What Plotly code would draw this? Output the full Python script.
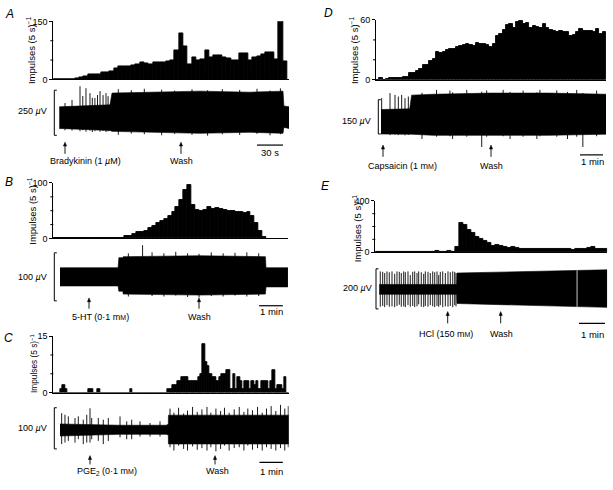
import plotly.graph_objects as go

# ---------------- data ----------------
# Rate histograms (impulses per bin), bin widths in seconds
A_BIN = 5.0
A_HIST = [1, 1, 1, 1, 1, 2, 5, 7, 14, 14, 14, 19, 19, 22, 28, 34, 34, 35, 37, 39, 43, 42, 40,
          45, 45, 45, 47, 50, 76, 119, 86, 40, 56, 50, 52, 74, 56, 62, 61, 57, 55, 50, 49, 67,
          67, 50, 57, 60, 64, 69, 70, 51, 160, 46]
B_BIN = 10.0
B_HIST = [1, 1, 1, 1, 1, 1, 1, 0, 0, 0, 0, 0, 0, 0, 0, 0, 0, 1, 4, 4, 8, 11, 12, 13, 19, 23, 28,
          31, 35, 40, 48, 57, 70, 88, 96, 60, 52, 50, 51, 57, 53, 55, 54, 51, 50, 50, 47, 47, 45,
          47, 41, 28, 14, 3]
C_BIN = 6.0
C_HIST = [0, 0, 0, 1, 2, 1, 0, 0, 0, 0, 0, 0, 0, 0, 0, 1, 1, 0, 0, 1, 0, 0, 0, 0, 0, 0, 0, 0, 0,
          0, 0, 0, 0, 1, 0, 0, 0, 0, 0, 0, 0, 0, 0, 0, 0, 0, 0, 0, 0,
          1, 1, 2, 2, 3, 3, 4, 4, 4, 3, 3, 3, 3, 4, 5, 13, 8, 7, 5, 4, 4, 3, 4, 5, 5, 6, 6, 1, 5,
          1, 4, 3, 1, 3, 3, 1, 3, 2, 3, 1, 3, 3, 3, 1, 3, 6, 1, 2, 2, 1, 4, 0]
D_BIN = 8.7
D_HIST = [0, 2, 0, 1, 2, 2, 2, 2, 3, 3, 7, 7, 9, 11, 15, 15, 19, 21, 28, 27, 28, 30, 31, 31, 33,
          34, 35, 36, 35, 34, 37, 36, 36, 35, 33, 36, 44, 46, 50, 55, 56, 52, 58, 59, 56, 57, 52,
          54, 53, 52, 56, 52, 50, 49, 48, 49, 48, 48, 44, 45, 48, 51, 49, 49, 49, 48, 51, 46, 48]
E_BIN = 9.24
E_HIST = [2, 1, 3, 2, 2, 2, 3, 1, 3, 2, 0, 0, 0, 0, 2, 6, 0, 2, 12, 0, 40, 230, 210, 170, 148,
          118, 102, 84, 72, 48, 60, 52, 40, 36, 40, 36, 24, 26, 25, 23, 26, 24, 23, 26, 25, 24,
          22, 26, 23, 18, 22, 26, 24, 32, 38, 25, 29, 24]

# Raw recordings: envelope of dense discharge (time s, µV) and individual spikes
A_ENV_T = [6.9, 30.8, 65.4, 67.7, 111.5, 169, 227, 265, 266, 272]
A_ENV_HI = [60, 65, 71, 136, 141, 147, 141, 147, 65, 60]
A_ENV_LO = [-60, -65, -71, -76, -81, -87, -81, -87, -54, -60]
A_SPK_T = [13.5, 21.6, 30.8, 34, 37.7, 42.3, 45, 48, 51, 53.9, 57.4, 60.8, 63.2,
           75, 90, 105, 125, 140, 160, 178, 195, 215, 235, 250, 262]
A_SPK_HI = [81, 98, 174, 120, 163, 136, 110, 109, 125, 147, 125, 136, 119,
            158, 152, 160, 155, 150, 157, 152, 158, 154, 160, 150, 162]
A_SPK_LO = [-70, -72, -75, -70, -78, -72, -80, -75, -70, -78, -74, -80, -76,
            -95, -88, -92, -98, -90, -95, -100, -92, -96, -90, -98, -92]

B_ENV_T = [17, 164, 166, 176, 177, 371, 537, 538.5, 594]
B_ENV_HI = [20, 20, 41, 41, 43, 45, 43, 20, 20]
B_ENV_LO = [-18, -18, -29, -29, -35, -37, -35, -20, -20]
B_SPK_T = [226, 190, 250, 280, 310, 340, 369, 400, 430, 460, 490, 520]
B_SPK_HI = [67, 50, 52, 50, 53, 50, 49, 52, 50, 51, 52, 50]
B_SPK_LO = [-30, -40, -39, -40, -38, -41, -42, -39, -40, -38, -40, -39]

C_ENV_T = [17.2, 100, 170, 290, 295.6, 296, 608.5]
C_ENV_HI = [12.6, 11, 9.5, 9.5, 12, 34, 34]
C_ENV_LO = [-16.7, -15, -12.6, -12.6, -14, -36, -36]
C_SPK_T = [21.5, 30, 38.6, 55.8, 64.3, 77, 86, 94.3, 98.7, 115.7, 128.5, 141.4, 171.5, 188.7,
           201.5, 222.9, 248.6, 274.3, 300, 310, 322, 335, 345, 358, 370, 382, 395, 405, 418,
           430, 440, 452, 465, 478, 490, 500, 512, 525, 537, 548, 560, 572, 584, 595, 604]
C_SPK_HI = [38.8, 35, 31, 27, 31, 23, 35, 50.7, 27, 27, 23, 27, 31, 19, 23, 19, 15, 19,
            50, 40, 52, 38, 45, 54, 42, 48, 54, 40, 50, 44, 52, 40, 48, 54, 42, 50, 46, 54,
            40, 50, 56, 44, 59, 50, 56]
C_SPK_LO = [-36.4, -32.6, -28.6, -32.6, -24.5, -36.4, -32.6, -32.6, -24.5, -28.6, -36.4, -28.6,
            -20, -24.5, -24.5, -18, -18, -18,
            -44, -52, -40, -48, -52, -42, -50, -46, -52, -44, -54, -48, -40, -52, -46, -44,
            -52, -40, -50, -46, -52, -44, -48, -52, -46, -52, -44]

D_ENV_T = [13, 88, 93, 150, 300, 450, 600.5]
D_ENV_HI = [57, 60, 120, 124, 129, 129, 124]
D_ENV_LO = [-50, -51, -51, -56, -56, -56, -51]
D_SPK_T = [14.8, 36.6, 49.6, 58.3, 67, 75.7, 84.4, 120, 158, 193, 200, 237, 276, 289, 332,
           350, 384, 420, 428, 472, 500, 524, 540, 576]
D_SPK_HI = [107, 129, 121, 114, 121, 107, 114, 130, 143, 140, 132, 143, 135, 141, 143, 134,
            140, 132, 143, 141, 134, 143, 130, 140]
D_SPK_LO = [-50, -55, -53, -55, -52, -56, -54, -72, -62, -60, -72, -62, -107, -62, -60, -72,
            -62, -72, -60, -62, -72, -62, -107, -60]

E_ENV_T = [9.2, 188, 188.7, 300, 420, 535]
E_ENV_HI = [23, 23, 80, 86, 92, 96]
E_ENV_LO = [-26, -26, -72, -78, -84, -91]
E_SPK_T = [11.5, 17.1, 21.7, 27, 32.3, 38.6, 44.8, 50.1, 55.4, 60, 65.6, 69.3, 75.5, 80.8, 86.4,
           91, 96.3, 100.2, 106.2, 111.8, 115.5, 121.7, 127, 132.6, 137.2, 142.5, 146.4, 150.1,
           155.7, 161.7, 167.9, 173.2, 178.8, 183.4, 186.4]
E_SPK_HI = [88, 86, 80, 88, 84, 88, 76, 88, 86, 80, 88, 84, 88, 70, 86, 88, 80, 88, 84, 76,
            88, 86, 80, 88, 84, 88, 70, 86, 88, 80, 88, 84, 88, 86, 80]
E_SPK_LO = [-88, -84, -90, -80, -88, -86, -90, -84, -78, -88, -86, -90, -80, -88, -84, -90, -86,
            -76, -88, -90, -84, -88, -80, -86, -90, -84, -88, -80, -90, -86, -88, -84, -90, -80,
            -86]
E_GAP_T = [466.0]

# Event times (s)
A_EVENTS_T = [13.5, 147.3]
B_EVENTS_T = [90.4, 368.9]
C_EVENTS_T = [94.3, 415.7]
D_EVENTS_T = [18.3, 300.3]
E_EVENTS_T = [167.2, 289.6]

MM = "m<span style='font-size:7px'>M</span>"
MU = "<i>µ</i>"

# ---------------- layout geometry (pixels) ----------------
W, H = 613, 490
FONT = "Liberation Sans, Arial, Helvetica, sans-serif"


def fx(p):
    return p / W


def fy(p):
    return 1 - p / H


def sid(n):
    return "" if n == 1 else str(n)


PANELS = [
    dict(letter="A", hist=A_HIST, binw=A_BIN, env=(A_ENV_T, A_ENV_HI, A_ENV_LO),
         spk=(A_SPK_T, A_SPK_HI, A_SPK_LO), events=A_EVENTS_T,
         x0=53.3, x1=289, hy=(16.7, 76), ty=(80, 135), xmax=271.9, ymax=150,
         ticks=[0, 50, 100, 150], vrange=(-108.6, 190), sbar_x=54.3, sbar_v=(-98, 152),
         uv=("250 " + MU + "V", 49, 108), ytitle=(31, 46, 9.5), letter_xy=(9, 9),
         arrow=(140, 152), labels=[("Bradykinin (1 " + MU + "M)", 85, 159), ("Wash", 181, 159)],
         tbar=(235, 30, 143, "30 s", 270, 150.5)),
    dict(letter="B", hist=B_HIST, binw=B_BIN, env=(B_ENV_T, B_ENV_HI, B_ENV_LO),
         spk=(B_SPK_T, B_SPK_HI, B_SPK_LO), events=B_EVENTS_T,
         x0=53.3, x1=288, hy=(181.7, 238.3), ty=(243, 305), xmax=594.2, ymax=100,
         ticks=[0, 25, 50, 75, 100], vrange=(-55.1, 71.4), sbar_x=54.3, sbar_v=(-49, 51),
         uv=("100 " + MU + "V", 49, 278), ytitle=(32, 210, 9.5), letter_xy=(9, 181),
         arrow=(299, 310), labels=[("5-HT (0·1 " + MM + ")", 100, 318), ("Wash", 199, 318)],
         tbar=(521, 60, 307, "1 min", 271, 313)),
    dict(letter="C", hist=C_HIST, binw=C_BIN, env=(C_ENV_T, C_ENV_HI, C_ENV_LO),
         spk=(C_SPK_T, C_SPK_HI, C_SPK_LO), events=C_EVENTS_T,
         x0=53.3, x1=288.7, hy=(338, 395.7), ty=(405, 460), xmax=605.1, ymax=15,
         ticks=[0, 5, 10, 15], vrange=(-64.3, 66.6), sbar_x=54.3, sbar_v=(-48, 52),
         uv=("100 " + MU + "V", 49, 432), ytitle=(33.5, 366, 8.3), letter_xy=(8, 340),
         arrow=(460, 469), labels=[("PGE<sub>2</sub> (0·1 " + MM + ")", 107, 476), ("Wash", 217, 476)],
         tbar=(530, 60, 467, "1 min", 271, 476)),
    dict(letter="D", hist=D_HIST, binw=D_BIN, env=(D_ENV_T, D_ENV_HI, D_ENV_LO),
         spk=(D_SPK_T, D_SPK_HI, D_SPK_LO), events=D_EVENTS_T,
         x0=376, x1=606, hy=(15.3, 76.3), ty=(84, 147), xmax=600.5, ymax=60,
         ticks=[0, 20, 40, 60], vrange=(-115.8, 154.4), sbar_x=378.3, sbar_v=(-50, 100),
         uv=("150 " + MU + "V", 373, 118), ytitle=(354, 46, 9.5), letter_xy=(328, 8),
         arrow=(143, 155), labels=[("Capsaicin (1 " + MM + ")", 402, 164.5), ("Wash", 491, 164.5)],
         tbar=(532.6, 60, 153, "1 min", 592, 160)),
    dict(letter="E", hist=E_HIST, binw=E_BIN, env=(E_ENV_T, E_ENV_HI, E_ENV_LO),
         spk=(E_SPK_T, E_SPK_HI, E_SPK_LO), events=E_EVENTS_T,
         x0=375.3, x1=607.3, hy=(200, 252.3), ty=(265, 315), xmax=535.8, ymax=400,
         ticks=[0, 100, 200, 300, 400], vrange=(-122, 122), sbar_x=376, sbar_v=(-99, 101),
         uv=("200 " + MU + "V", 374, 289), ytitle=(357, 228, 9.5), letter_xy=(326, 185),
         arrow=(313, 325), labels=[("HCl (150 " + MM + ")", 446, 336), ("Wash", 501, 336)],
         tbar=(470.4, 60, 325, "1 min", 592, 336)),
]

fig = go.Figure()
annotations = []
shapes = []
layout_axes = {}

for k, p in enumerate(PANELS, start=1):
    hn, tn = 2 * k - 1, 2 * k
    hx, hyy, tx, tyy = "x" + sid(hn), "y" + sid(hn), "x" + sid(tn), "y" + sid(tn)
    px_per_unit = (p["x1"] - p["x0"]) / p["xmax"]

    # histogram
    centers = [p["binw"] * (i + 0.5) for i in range(len(p["hist"]))]
    fig.add_trace(go.Bar(x=centers, y=p["hist"], width=p["binw"],
                         marker=dict(color="black", line=dict(color="black", width=0.9)),
                         cliponaxis=False, xaxis=hx, yaxis=hyy, hoverinfo="skip",
                         showlegend=False))
    # recording envelope
    et, ehi, elo = p["env"]
    fig.add_trace(go.Scatter(x=et + et[::-1], y=ehi + elo[::-1], fill="toself",
                             fillcolor="black", mode="lines",
                             line=dict(color="black", width=0.6),
                             xaxis=tx, yaxis=tyy, hoverinfo="skip", showlegend=False))
    # individual spikes
    sx, sy = [], []
    for t, hi, lo in zip(*p["spk"]):
        sx += [t, t, None]
        sy += [lo, hi, None]
    fig.add_trace(go.Scatter(x=sx, y=sy, mode="lines", line=dict(color="black", width=0.9),
                             xaxis=tx, yaxis=tyy, hoverinfo="skip", showlegend=False))
    if p["letter"] == "E":
        gx, gy = [], []
        for t in E_GAP_T:
            gx += [t, t, None]
            gy += [-88, 94, None]
        fig.add_trace(go.Scatter(x=gx, y=gy, mode="lines", line=dict(color="#a8a8a8", width=1.2),
                                 xaxis=tx, yaxis=tyy, hoverinfo="skip", showlegend=False))

    dom_x = [fx(p["x0"]), fx(p["x1"])]
    layout_axes["xaxis" + sid(hn)] = dict(
        domain=dom_x, range=[0, p["xmax"]], anchor=hyy, showline=True, linecolor="black",
        linewidth=1, ticks="", showticklabels=False, showgrid=False, zeroline=False,
        fixedrange=True)
    ends = [p["ticks"][0], p["ticks"][-1]]
    layout_axes["yaxis" + sid(hn)] = dict(
        domain=[fy(p["hy"][1]), fy(p["hy"][0])], range=[0, p["ymax"]], anchor=hx,
        showline=True, linecolor="black", linewidth=1, ticks="outside", ticklen=3,
        tickwidth=1, tickcolor="black", tickvals=ends, ticktext=[str(v) for v in ends],
        tickfont=dict(family=FONT, size=9, color="black"), showgrid=False, zeroline=False,
        fixedrange=True)
    # unlabelled intermediate ticks
    for v in p["ticks"][1:-1]:
        shapes.append(dict(type="line", xref="paper", yref=hyy, x0=fx(p["x0"] - 3),
                           x1=fx(p["x0"]), y0=v, y1=v, line=dict(color="black", width=1)))
    layout_axes["xaxis" + sid(tn)] = dict(domain=dom_x, range=[0, p["xmax"]], anchor=tyy,
                                          visible=False, fixedrange=True)
    layout_axes["yaxis" + sid(tn)] = dict(domain=[fy(p["ty"][1]), fy(p["ty"][0])],
                                          range=list(p["vrange"]), anchor=tx, visible=False,
                                          fixedrange=True)

    # panel letter
    lx, ly = p["letter_xy"]
    annotations.append(dict(text="<i>" + p["letter"] + "</i>", x=fx(lx), y=fy(ly),
                            xref="paper", yref="paper", showarrow=False,
                            font=dict(family=FONT, size=12, color="black"),
                            xanchor="center", yanchor="middle"))
    # y-axis title
    yx, yy, ys = p["ytitle"]
    annotations.append(dict(text="Impulses (5 s)<sup>−1</sup>", x=fx(yx), y=fy(yy),
                            xref="paper", yref="paper", showarrow=False, textangle=-90,
                            font=dict(family=FONT, size=ys, color="black"),
                            xanchor="center", yanchor="middle"))
    # µV label
    ut, ux, uy = p["uv"]
    annotations.append(dict(text=ut, x=fx(ux), y=fy(uy), xref="paper", yref="paper",
                            showarrow=False, font=dict(family=FONT, size=9, color="black"),
                            xanchor="right", yanchor="middle"))
    # vertical scale bar
    bx = fx(p["sbar_x"])
    v0, v1 = p["sbar_v"]
    shapes.append(dict(type="line", xref="paper", yref=tyy, x0=bx, x1=bx, y0=v0, y1=v1,
                       line=dict(color="black", width=1)))
    for v in (v0, v1):
        shapes.append(dict(type="line", xref="paper", yref=tyy, x0=bx, x1=fx(p["sbar_x"] + 2.5),
                           y0=v, y1=v, line=dict(color="black", width=1)))
    # event arrows (shaft + head as shapes)
    head, tail = p["arrow"]
    hw = 1.6 / px_per_unit
    for t in p["events"]:
        shapes.append(dict(type="line", xref=tx, yref="paper", x0=t, x1=t,
                           y0=fy(tail), y1=fy(head + 3), line=dict(color="black", width=0.9)))
        shapes.append(dict(type="path", xref=tx, yref="paper",
                           path=f"M {t - hw},{fy(head + 4)} L {t},{fy(head)} L {t + hw},{fy(head + 4)} Z",
                           fillcolor="black", line=dict(color="black", width=0.5)))
    for txt, cx, cy in p["labels"]:
        annotations.append(dict(text=txt, x=fx(cx), y=fy(cy), xref="paper", yref="paper",
                                showarrow=False, font=dict(family=FONT, size=9, color="black"),
                                xanchor="center", yanchor="middle"))
    # time scale bar
    t0, dur, byy, btxt, btx, bty = p["tbar"]
    shapes.append(dict(type="line", xref=tx, yref="paper", x0=t0, x1=t0 + dur,
                       y0=fy(byy), y1=fy(byy), line=dict(color="black", width=1.2)))
    annotations.append(dict(text=btxt, x=fx(btx), y=fy(bty), xref="paper", yref="paper",
                            showarrow=False, font=dict(family=FONT, size=9.5, color="black"),
                            xanchor="center", yanchor="middle"))

fig.update_layout(
    width=W, height=H, autosize=False,
    margin=dict(l=0, r=0, t=0, b=0),
    paper_bgcolor="white", plot_bgcolor="white",
    bargap=0, showlegend=False,
    annotations=annotations, shapes=shapes,
    font=dict(family=FONT, color="black"),
    **layout_axes,
)

fig.write_html("out.html",
               config={"displayModeBar": False},
               post_script="document.body.style.margin='0';document.body.style.overflow='hidden';")
